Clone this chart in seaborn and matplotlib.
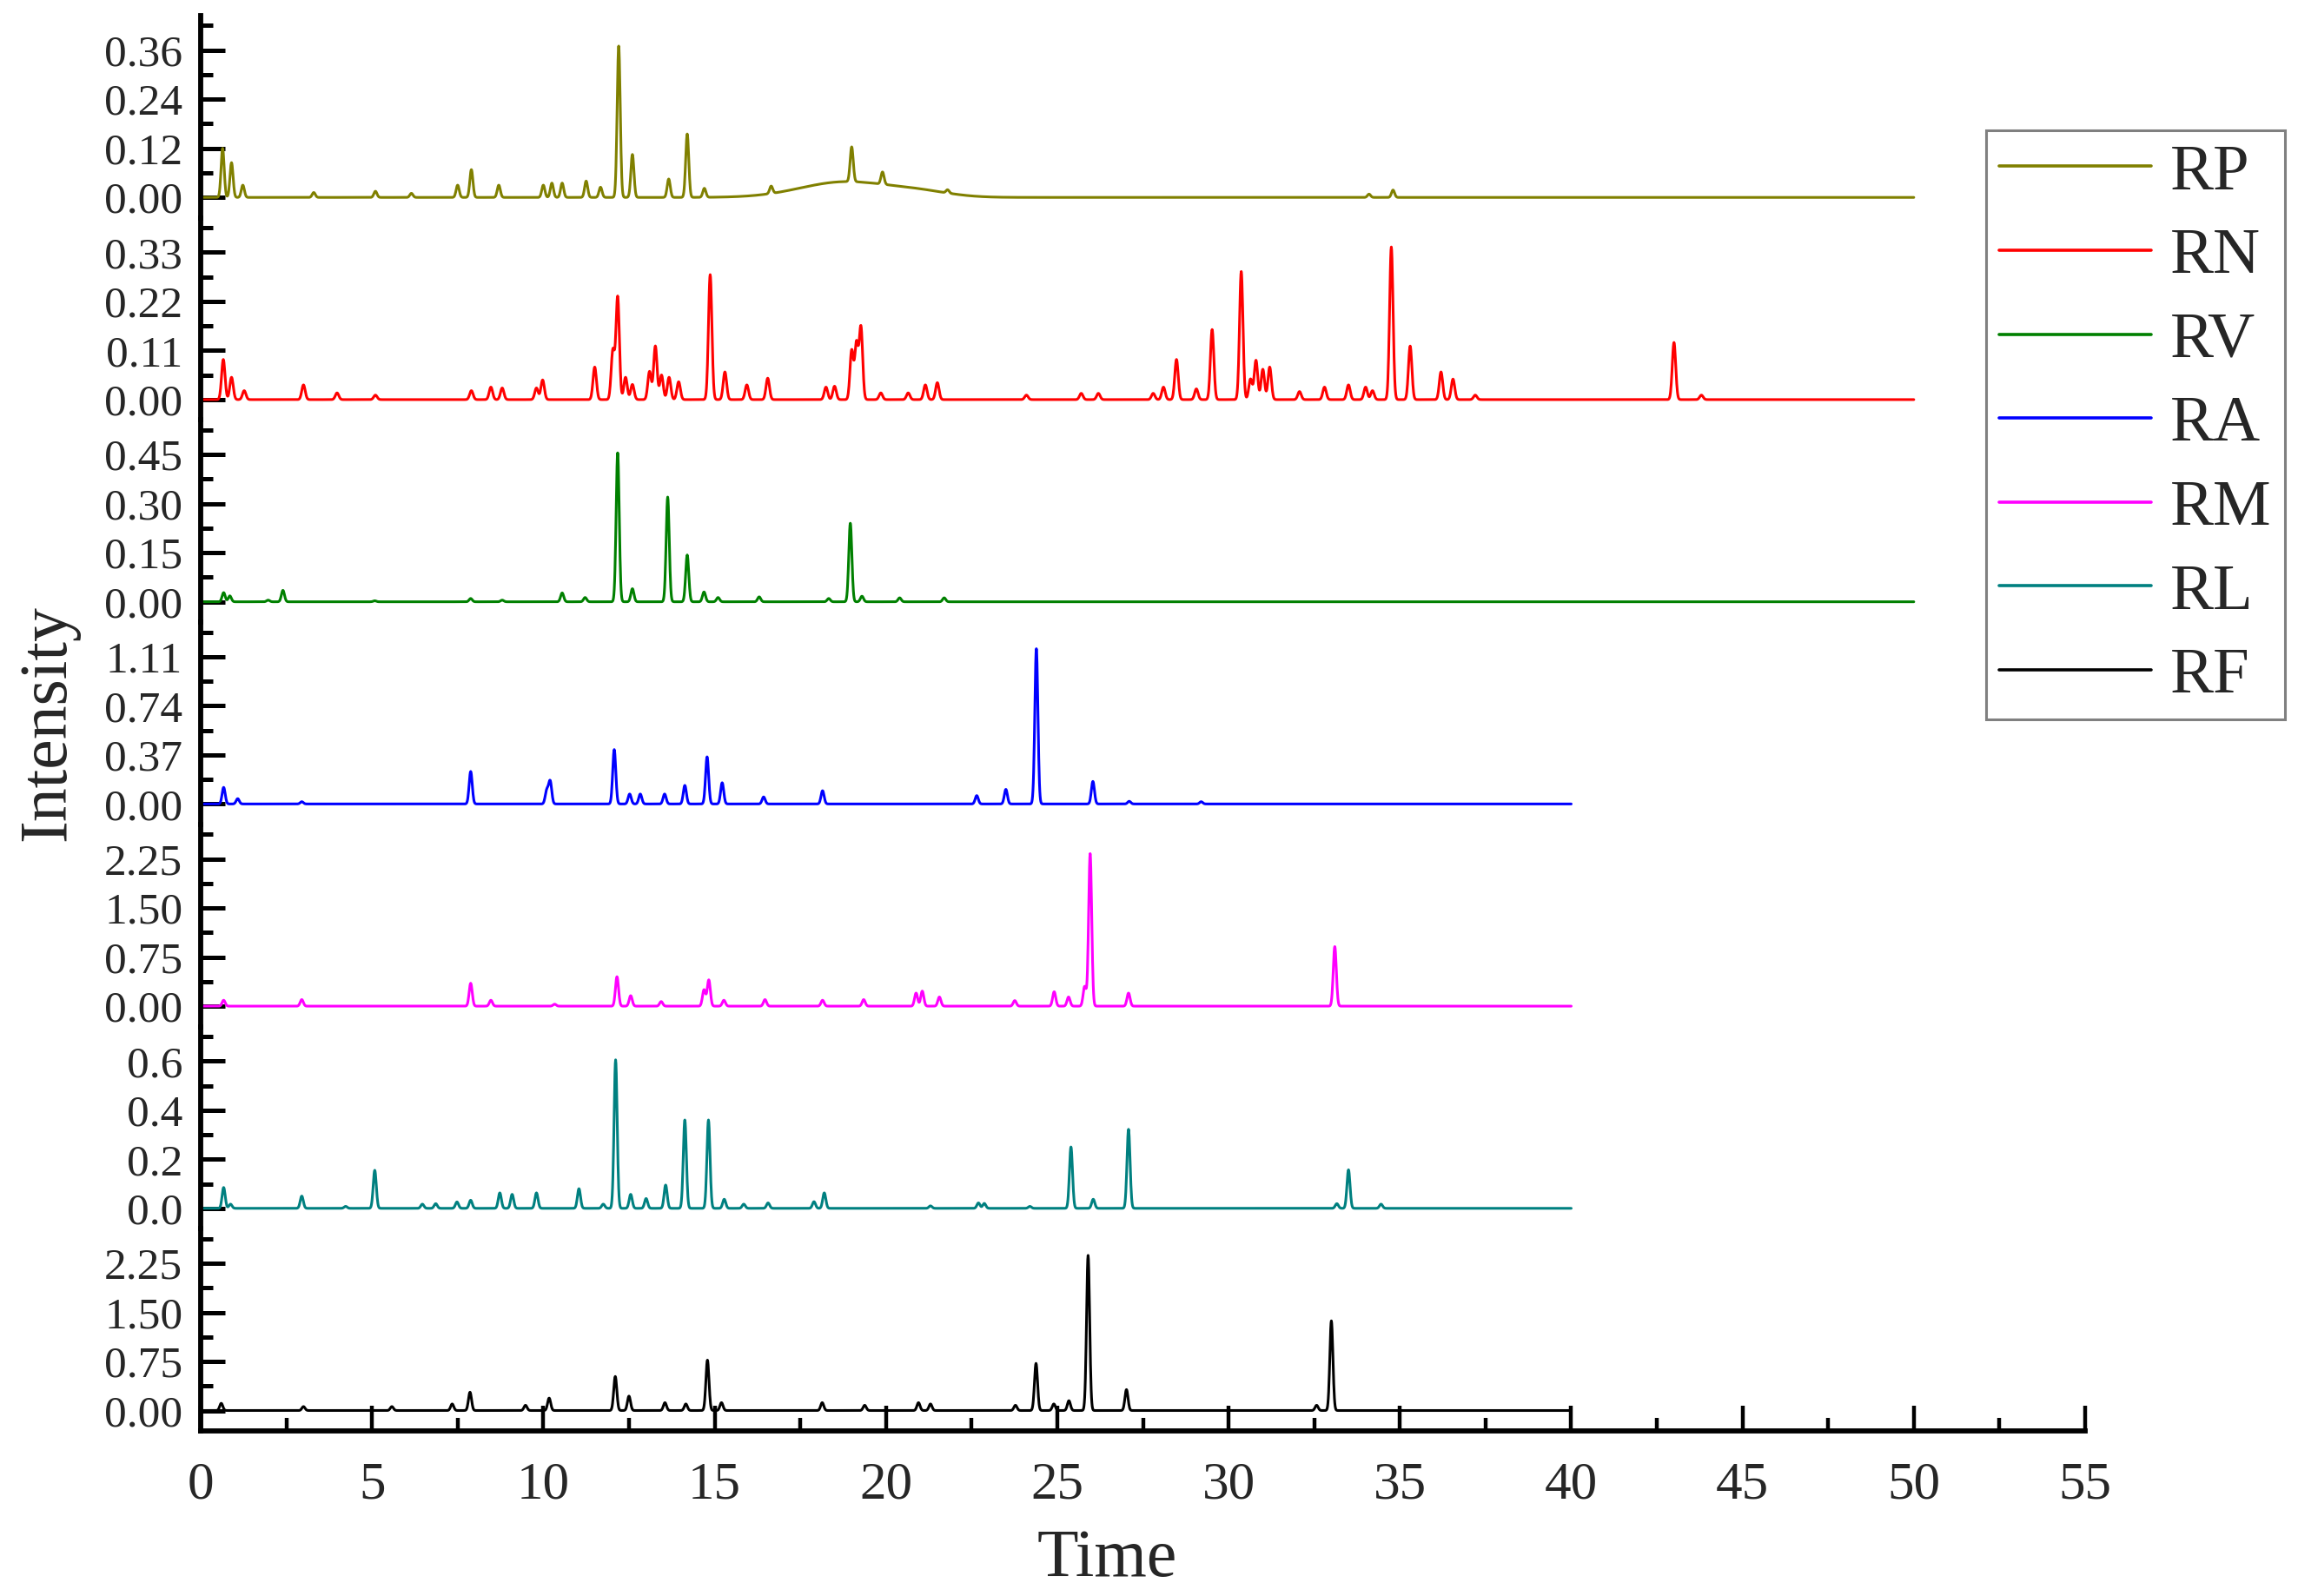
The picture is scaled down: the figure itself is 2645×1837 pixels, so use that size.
import numpy as np
import pandas as pd
import matplotlib
matplotlib.use("Agg")
import matplotlib.pyplot as plt
import seaborn as sns
from matplotlib.ticker import FixedLocator, MultipleLocator

# ---------------- data ----------------
SERIES = ["RP", "RN", "RV", "RA", "RM", "RL", "RF"]
COLORS = ["#808000", "#ff0000", "#008000", "#0000ff", "#ff00ff", "#008080", "#000000"]
END_TIME = [50, 50, 50, 40, 40, 40, 40]
TICK_STEP = [0.12, 0.11, 0.15, 0.37, 0.75, 0.2, 0.75]
TICK_DECIMALS = [2, 2, 2, 2, 2, 1, 2]
X_TICKS = [0, 5, 10, 15, 20, 25, 30, 35, 40, 45, 50, 55]

RP_TIMES = [0.64, 0.9, 1.23, 3.3, 5.1, 6.15, 7.5, 7.9, 8.7, 10.0, 10.25, 10.55, 11.25,
            11.67, 12.2, 12.6, 13.66, 14.2, 14.7, 16.65, 19.0, 19.9, 21.8, 34.1, 34.8]
RP_HEIGHTS = [0.12, 0.085, 0.03, 0.012, 0.015, 0.01, 0.03, 0.068, 0.03, 0.03, 0.035, 0.035, 0.04,
              0.025, 0.37, 0.105, 0.045, 0.155, 0.022, 0.018, 0.085, 0.03, 0.008, 0.008, 0.018]
RP_HUMP_TIMES = [18.8, 21.0]
RP_HUMP_HEIGHTS = [0.038, 0.012]
RP_HUMP_WIDTHS = [1.3, 0.9]

RN_TIMES = [0.66, 0.9, 1.27, 3.0, 3.98, 5.1, 7.9, 8.47, 8.8, 9.8, 9.98, 11.5, 12.03, 12.17,
            12.4, 12.6, 13.1, 13.27, 13.45, 13.67, 13.95, 14.87, 15.3, 15.94, 16.55, 18.25,
            18.5, 19.0, 19.14, 19.27, 19.85, 20.65, 21.15, 21.5, 24.1, 25.7, 26.2, 27.8,
            28.1, 28.48, 29.06, 29.52, 30.37, 30.64, 30.8, 31.0, 31.2, 32.07, 32.8, 33.5,
            34.0, 34.2, 34.75, 35.3, 36.2, 36.55, 37.2, 43.0, 43.8]
RN_HEIGHTS = [0.09, 0.05, 0.02, 0.033, 0.015, 0.01, 0.02, 0.028, 0.026, 0.026, 0.044, 0.073,
              0.11, 0.23, 0.05, 0.034, 0.063, 0.12, 0.055, 0.05, 0.04, 0.28, 0.062, 0.033,
              0.048, 0.028, 0.03, 0.11, 0.125, 0.162, 0.015, 0.015, 0.033, 0.038, 0.01,
              0.014, 0.014, 0.014, 0.028, 0.09, 0.024, 0.157, 0.287, 0.046, 0.088, 0.068,
              0.073, 0.018, 0.028, 0.033, 0.028, 0.02, 0.342, 0.12, 0.062, 0.046, 0.01,
              0.128, 0.01]

RV_TIMES = [0.67, 0.85, 1.97, 2.4, 5.08, 7.88, 8.8, 10.55, 11.22, 12.17, 12.6, 13.63,
            14.2, 14.69, 15.1, 16.3, 18.33, 18.96, 19.3, 20.4, 21.7]
RV_HEIGHTS = [0.028, 0.018, 0.005, 0.035, 0.003, 0.01, 0.005, 0.027, 0.013, 0.455, 0.04,
              0.32, 0.143, 0.03, 0.013, 0.015, 0.01, 0.24, 0.017, 0.012, 0.012]

RA_TIMES = [0.67, 1.08, 2.95, 7.88, 10.1, 10.2, 12.07, 12.52, 12.83, 13.54, 14.13, 14.78,
            15.22, 16.43, 18.15, 22.65, 23.5, 24.39, 26.04, 27.1, 29.2]
RA_HEIGHTS = [0.125, 0.04, 0.017, 0.245, 0.1, 0.17, 0.41, 0.075, 0.075, 0.075, 0.14, 0.355,
              0.16, 0.053, 0.1, 0.063, 0.11, 1.17, 0.17, 0.02, 0.017]

RM_TIMES = [0.67, 2.95, 7.88, 8.47, 10.33, 12.15, 12.55, 13.44, 14.69, 14.83, 15.27, 16.47,
            18.15, 19.35, 20.88, 21.06, 21.56, 23.76, 24.91, 25.33, 25.8, 25.96, 27.08,
            33.1]
RM_HEIGHTS = [0.09, 0.1, 0.35, 0.09, 0.03, 0.45, 0.16, 0.07, 0.25, 0.4, 0.09, 0.1, 0.09,
              0.1, 0.2, 0.23, 0.14, 0.085, 0.22, 0.14, 0.3, 2.33, 0.2, 0.91]

RL_TIMES = [0.67, 0.87, 2.95, 4.23, 5.08, 6.47, 6.86, 7.48, 7.88, 8.73, 9.09, 9.8, 11.04,
            11.75, 12.11, 12.55, 13.0, 13.57, 14.13, 14.82, 15.28, 15.85, 16.56, 17.9,
            18.2, 21.3, 22.7, 22.87, 24.2, 25.4, 26.05, 27.08, 33.16, 33.5, 34.45]
RL_HEIGHTS = [0.085, 0.017, 0.05, 0.008, 0.155, 0.017, 0.019, 0.026, 0.033, 0.063, 0.057,
              0.063, 0.08, 0.017, 0.605, 0.057, 0.04, 0.095, 0.36, 0.36, 0.037, 0.017,
              0.022, 0.027, 0.063, 0.01, 0.022, 0.02, 0.008, 0.25, 0.037, 0.322, 0.019,
              0.157, 0.017]

RF_TIMES = [0.6, 3.0, 5.58, 7.34, 7.86, 9.48, 10.17, 12.1, 12.5, 13.55, 14.16, 14.79, 15.2,
            18.14, 19.38, 20.95, 21.3, 23.78, 24.38, 24.9, 25.34, 25.9, 27.02, 32.57, 33.0]
RF_HEIGHTS = [0.11, 0.06, 0.06, 0.1, 0.28, 0.08, 0.19, 0.52, 0.22, 0.12, 0.1, 0.77, 0.12,
              0.12, 0.08, 0.12, 0.1, 0.08, 0.72, 0.1, 0.15, 2.37, 0.32, 0.08, 1.37]

PEAK_TIMES = [RP_TIMES, RN_TIMES, RV_TIMES, RA_TIMES, RM_TIMES, RL_TIMES, RF_TIMES]
PEAK_HEIGHTS = [RP_HEIGHTS, RN_HEIGHTS, RV_HEIGHTS, RA_HEIGHTS, RM_HEIGHTS, RL_HEIGHTS, RF_HEIGHTS]
PEAK_WIDTH = [0.045, 0.05, 0.045, 0.045, 0.045, 0.045, 0.045]


def chromatogram(times, heights, width, end, hump=None):
    t = np.arange(0.0, end + 1e-9, 0.01)
    y = np.zeros_like(t)
    for tc, h in zip(times, heights):
        y += h * np.exp(-0.5 * ((t - tc) / width) ** 2)
    if hump is not None:
        for tc, h, w in zip(*hump):
            y += h * np.exp(-0.5 * ((t - tc) / w) ** 2)
    return pd.DataFrame({"Time": t, "Intensity": y})


# ---------------- figure ----------------
sns.set_style("white")
plt.rcParams["font.family"] = ["Liberation Serif", "DejaVu Serif"]

W, H = 2645, 1837
fig = plt.figure(figsize=(W / 100, H / 100), dpi=100)
fig.patch.set_facecolor("white")

left_px, right_px, top_px, bottom_px = 231, 2400, 18, 1647
panel_h = (bottom_px - top_px) / len(SERIES)
base_off = 23.5   # px from panel bottom to zero line
step_px = 56.5    # px per major step

axes = []
handles = []
for i, name in enumerate(SERIES):
    y0 = top_px + panel_h * (i + 1)
    ax = fig.add_axes([left_px / W, 1 - y0 / H, (right_px - left_px) / W, panel_h / H])
    ax.set_facecolor("none")
    hump = (RP_HUMP_TIMES, RP_HUMP_HEIGHTS, RP_HUMP_WIDTHS) if name == "RP" else None
    df = chromatogram(PEAK_TIMES[i], PEAK_HEIGHTS[i], PEAK_WIDTH[i], END_TIME[i], hump)
    sns.lineplot(data=df, x="Time", y="Intensity", ax=ax, color=COLORS[i],
                 linewidth=2.2, estimator=None, sort=False, legend=False)
    handles.append(ax.lines[-1])

    s = TICK_STEP[i]
    ax.set_xlim(0, 55)
    ax.set_ylim(-base_off / step_px * s, (panel_h - base_off) / step_px * s)
    majors = [0, s, 2 * s, 3 * s]
    ax.yaxis.set_major_locator(FixedLocator(majors))
    ax.yaxis.set_minor_locator(FixedLocator([0.5 * s, 1.5 * s, 2.5 * s, 3.5 * s]))
    ax.set_yticklabels([f"{v:.{TICK_DECIMALS[i]}f}" for v in majors])
    ax.tick_params(axis="y", which="major", direction="in", length=20, width=3.6,
                   labelsize=37, pad=15, left=True, color="black")
    ax.tick_params(axis="y", which="minor", direction="in", length=10, width=3.6,
                   left=True, color="black")
    ax.set_ylabel("")
    ax.set_xlabel("")
    for sp in ["top", "right"]:
        ax.spines[sp].set_visible(False)
    ax.spines["left"].set_linewidth(4.2)
    ax.spines["left"].set_color("black")
    if i < len(SERIES) - 1:
        ax.spines["bottom"].set_visible(False)
        ax.tick_params(axis="x", which="both", bottom=False, labelbottom=False)
    else:
        ax.spines["bottom"].set_linewidth(4.2)
        ax.spines["bottom"].set_color("black")
        ax.xaxis.set_major_locator(FixedLocator(X_TICKS))
        ax.xaxis.set_minor_locator(MultipleLocator(2.5))
        ax.tick_params(axis="x", which="major", direction="in", length=21, width=3.2,
                       labelsize=44, pad=25, bottom=True, color="black")
        ax.tick_params(axis="x", which="minor", direction="in", length=11, width=3.2,
                       bottom=True, color="black")
        ax.set_xlabel("Time", fontsize=56)
        ax.xaxis.set_label_coords(0.481, -(1795 - bottom_px) / panel_h)
        ax.xaxis.label.set_va("center")
    axes.append(ax)

axes[3].set_ylabel("Intensity", fontsize=56)
axes[3].yaxis.set_label_coords((56 - left_px) / (right_px - left_px), 0.5)
axes[3].yaxis.label.set_va("center")

leg = fig.legend(handles, SERIES, loc="upper left",
                 bbox_to_anchor=(2286 / W, 1 - 150 / H), bbox_transform=fig.transFigure,
                 borderaxespad=0, fontsize=54, handlelength=2.33, handletextpad=0.3,
                 borderpad=0.2, labelspacing=0.375, frameon=True, fancybox=False,
                 edgecolor="#808080", framealpha=1)
leg.get_frame().set_linewidth(2.2)
for ln in leg.get_lines():
    ln.set_linewidth(2.6)

fig.savefig("out.png", dpi=100, facecolor="white")
